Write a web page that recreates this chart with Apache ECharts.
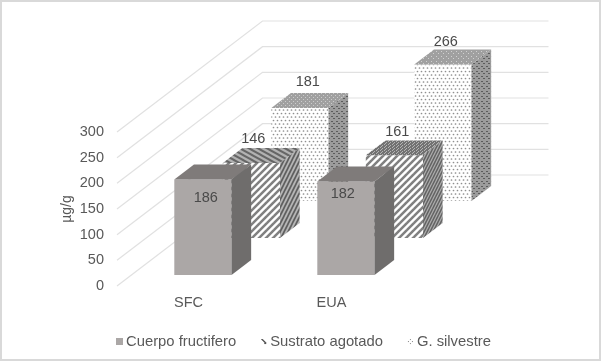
<!DOCTYPE html>
<html>
<head>
<meta charset="utf-8">
<style>html,body{margin:0;padding:0;background:#fff}#c{width:601px;height:361px}</style>
<script src="https://cdn.jsdelivr.net/npm/echarts@6/dist/echarts.min.js"></script>
</head>
<body>
<div id="c"></div>
<script>
var categories = ['SFC', 'EUA'];
var seriesNames = ['Cuerpo fructifero', 'Sustrato agotado', 'G. silvestre'];
var cuerpo = [186, 182];
var sustrato = [146, 161];
var silvestre = [181, 266];
var yTicks = [0, 50, 100, 150, 200, 250, 300];

var FONT = '"Liberation Sans", Arial, sans-serif';
var UNIT_X = 48.5, UNIT_Y = 37;     // projected size of one depth slot
var BAR_DEPTH = 0.405, BAR_MARGIN = 0.297, BAR_WIDTH = 0.4;

function tile(w, h, bg, paint) {
  var c = document.createElement('canvas');
  c.width = w; c.height = h;
  var g = c.getContext('2d');
  g.fillStyle = bg; g.fillRect(0, 0, w, h);
  paint(g, w, h);
  return { image: c, repeat: 'repeat' };
}
function px(color, pts) {
  return function (g) {
    g.fillStyle = color;
    pts.forEach(function (p) { g.fillRect(p[0], p[1], p[2] || 1, p[3] || 1); });
  };
}
function dots(color, r, pts) {
  return function (g) {
    g.fillStyle = color;
    pts.forEach(function (p) { g.beginPath(); g.arc(p[0], p[1], r, 0, Math.PI * 2); g.fill(); });
  };
}
function stripes(color, width, back) {
  return function (g, w, h) {
    g.strokeStyle = color; g.lineWidth = width;
    for (var i = -1; i <= 1; i++) {
      g.beginPath();
      if (back) { g.moveTo(i * w - w / h, -1); g.lineTo(i * w + w + w / h, h + 1); }
      else { g.moveTo(i * w - w / h, h + 1); g.lineTo(i * w + w + w / h, -1); }
      g.stroke();
    }
  };
}
var faces = [
  { front: ['#aba7a6', '#aba7a6'], top: ['#7f7b7a', '#7f7b7a'], side: ['#6f6d6c', '#6f6d6c'] },
  {
    front: [tile(7, 7, '#ffffff', stripes('#808080', 2.5)), tile(7, 7, '#ffffff', stripes('#808080', 2.5))],
    top: [
      tile(9, 5, '#b2b2b2', stripes('#666666', 2.0, true)),
      tile(4, 3, '#727272', px('#b4b4b4', [[0, 0, 1, 1], [2, 1, 1, 1], [1, 2, 1, 1]]))
    ],
    side: [
      tile(4, 8, '#b6b6b6', stripes('#5f5f5f', 1.7)),
      tile(3, 6, '#b0b0b0', stripes('#646464', 1.5))
    ]
  },
  {
    front: [
      tile(8, 7, '#ffffff', dots('#8f8f8f', 0.85, [[1.5, 1.5], [5.5, 1.5], [3.5, 5], [7.5, 5], [-0.5, 5]])),
      tile(8, 7, '#ffffff', dots('#8f8f8f', 0.85, [[1.5, 1.5], [5.5, 1.5], [3.5, 5], [7.5, 5], [-0.5, 5]]))
    ],
    top: [
      tile(4, 4, '#a0a0a0', px('#cccccc', [[1, 1], [3, 3]])),
      tile(5, 5, '#a0a0a0', px('#d0d0d0', [[1, 1], [3, 3]]))
    ],
    side: [
      tile(5, 5, '#9c9c9c', px('#5c5c5c', [[1, 1, 2, 1], [3, 3, 2, 1]])),
      tile(5, 5, '#9c9c9c', px('#5c5c5c', [[1, 1, 2, 1], [3, 3, 2, 1]]))
    ]
  }
];
var legendIcons = [
  '#aba7a6',
  tile(7, 7, '#ffffff', px('#555555', [[1, 1, 2, 1], [2, 2, 2, 1], [3, 3, 2, 1], [4, 4, 2, 2]])),
  tile(7, 7, '#ffffff', px('#8c8c8c', [[1, 3, 1, 1], [3, 1, 1, 1], [3, 5, 1, 1], [5, 3, 1, 1]]))
];
// label anchor tweaks, relative to the centre of the bar's top face
var labelNudge = [
  [[-7, 26], [-13, 20]],
  [[-8, -17], [-7, -16]],
  [[-2, -19], [-7, -15]]
];

function barRenderer(slot) {
  return function (params, api) {
    var cat = api.value(0), val = api.value(1);
    var band = api.size([1, 0])[0];
    var w = band * BAR_WIDTH;
    var depth0 = slot + BAR_MARGIN;
    var ox = depth0 * UNIT_X, oy = depth0 * UNIT_Y;
    var dx = BAR_DEPTH * UNIT_X, dy = BAR_DEPTH * UNIT_Y;
    var base = api.coord([cat, 0]);
    var topP = api.coord([cat, val]);
    var x0 = base[0] - w / 2 + ox, x1 = x0 + w;
    var yB = base[1] - oy, yT = topP[1] - oy;
    var f = faces[slot];
    var i = params.dataIndex;
    var nudge = labelNudge[slot][i];
    return {
      type: 'group',
      children: [
        { type: 'polygon', shape: { points: [[x0, yB], [x1, yB], [x1, yT], [x0, yT]] }, style: { fill: f.front[i] } },
        { type: 'polygon', shape: { points: [[x0, yT], [x1, yT], [x1 + dx, yT - dy], [x0 + dx, yT - dy]] }, style: { fill: f.top[i] } },
        { type: 'polygon', shape: { points: [[x1, yB], [x1 + dx, yB - dy], [x1 + dx, yT - dy], [x1, yT]] }, style: { fill: f.side[i] } },
        {
          type: 'text', z2: 10,
          style: {
            x: (x0 + x1 + dx) / 2 + nudge[0], y: yT - dy / 2 + nudge[1],
            text: String(val), fill: '#4a4a4a', font: '14.5px ' + FONT,
            align: 'center', verticalAlign: 'middle'
          }
        }
      ]
    };
  };
}
function wallRenderer(params, api) {
  var band = api.size([1, 0])[0];
  var first = api.coord([0, api.value(1)]);
  var last = api.coord([categories.length - 1, api.value(1)]);
  var xL = first[0] - band / 2, xR = last[0] + band / 2, y = first[1];
  var bx = xL + 3 * UNIT_X, by = y - 3 * UNIT_Y;
  return {
    type: 'polyline',
    shape: { points: [[xL, y], [bx, by], [bx + xR - xL, by]] },
    style: { fill: null, stroke: '#e1e1e1', lineWidth: 1.2 }
  };
}
function pairs(values) { return values.map(function (v, i) { return [i, v]; }); }
function barSeries(name, values, slot) {
  return {
    type: 'custom', name: name, z: 5 - slot, clip: false,
    renderItem: barRenderer(slot),
    encode: { x: 0, y: 1 },
    itemStyle: { color: '#aba7a6' },
    data: pairs(values)
  };
}

var chart = echarts.init(document.getElementById('c'), null, { renderer: 'canvas', width: 601, height: 361 });
chart.setOption({
  animation: false,
  backgroundColor: '#ffffff',
  textStyle: { fontFamily: FONT },
  grid: { left: 117, right: 198, top: 132, bottom: 75, containLabel: false },
  xAxis: {
    type: 'category', data: categories,
    axisLine: { show: false }, axisTick: { show: false },
    axisLabel: { color: '#595959', fontSize: 14.5, fontFamily: FONT, margin: 9 }
  },
  yAxis: {
    type: 'value', min: 0, max: 300, interval: 50,
    name: 'µg/g', nameLocation: 'middle', nameRotate: 90, nameGap: 43,
    nameTextStyle: { color: '#595959', fontSize: 14, fontFamily: FONT },
    axisLine: { show: false }, axisTick: { show: false }, splitLine: { show: false },
    axisLabel: { color: '#595959', fontSize: 14.5, fontFamily: FONT, margin: 13 }
  },
  legend: {
    left: 111, top: 329, itemWidth: 7, itemHeight: 7, itemGap: 24,
    textStyle: { color: '#595959', fontSize: 14.8, fontFamily: FONT, padding: [0, 0, 0, -2] },
    data: seriesNames.map(function (n, i) {
      return { name: n, icon: 'rect', itemStyle: { color: legendIcons[i] } };
    })
  },
  graphic: [{
    type: 'rect', silent: true, z: -10,
    shape: { x: 1, y: 1, width: 599, height: 359 },
    style: { fill: null, stroke: '#d9d9d9', lineWidth: 2 }
  }],
  series: [
    { type: 'custom', name: 'wall', z: 1, clip: false, silent: true,
      renderItem: wallRenderer, encode: { x: 0, y: 1 },
      data: yTicks.map(function (t) { return [0, t]; }) },
    barSeries(seriesNames[0], cuerpo, 0),
    barSeries(seriesNames[1], sustrato, 1),
    barSeries(seriesNames[2], silvestre, 2)
  ]
});
</script>
</body>
</html>
